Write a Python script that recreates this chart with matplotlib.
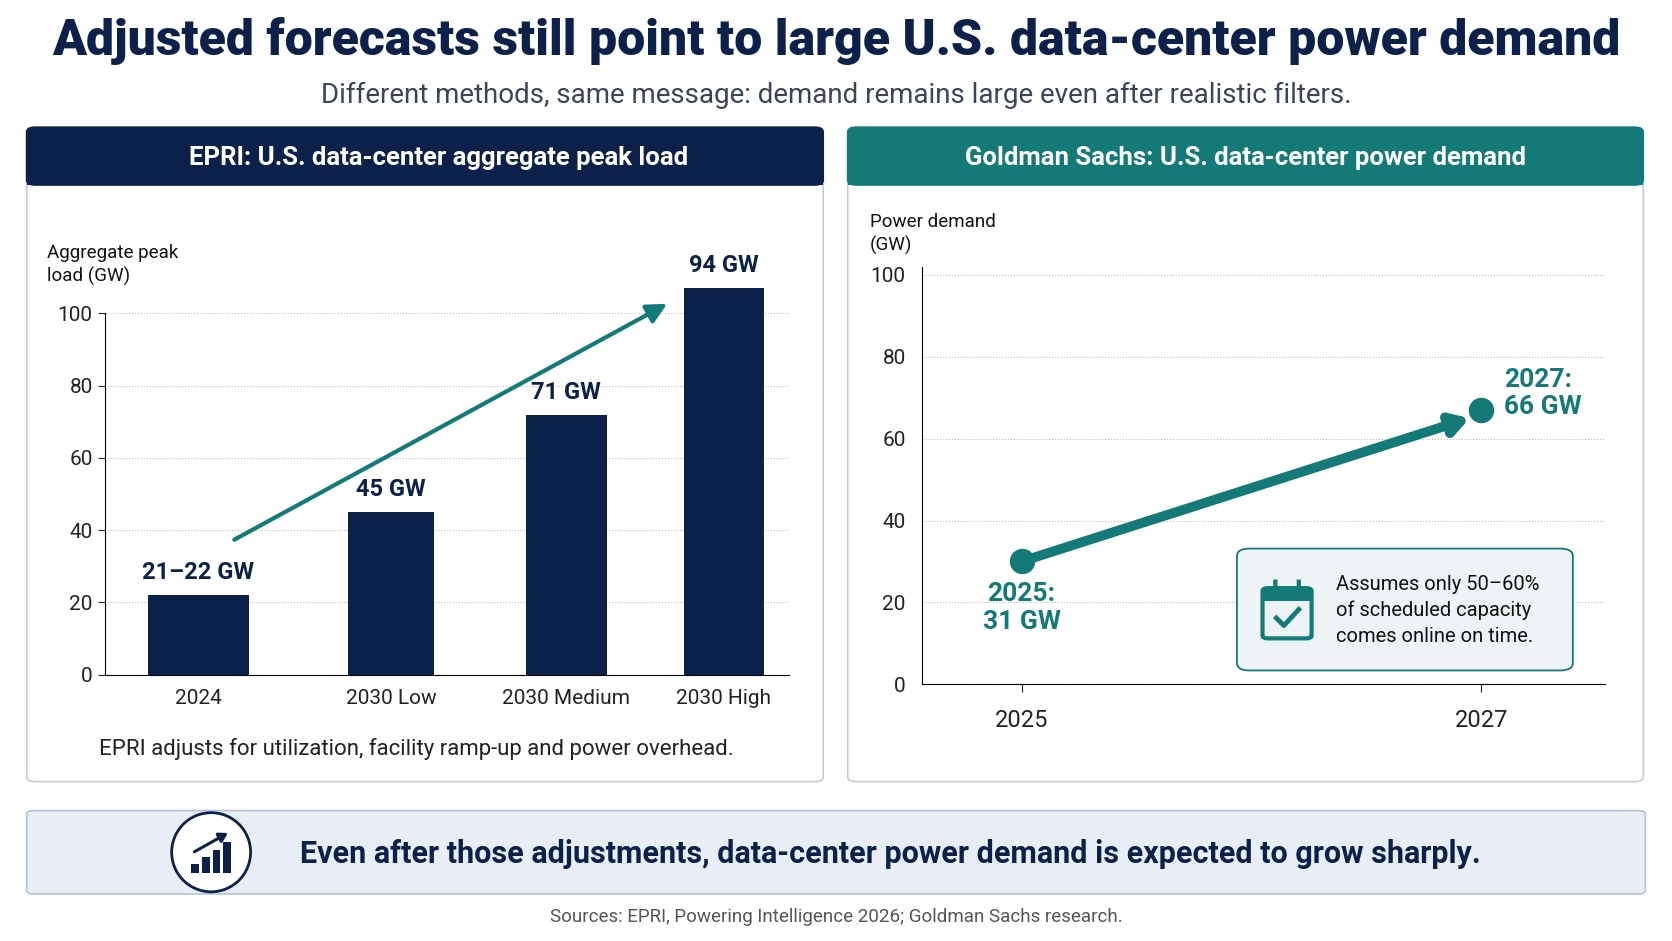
import matplotlib.pyplot as plt
from matplotlib.patches import FancyBboxPatch, Rectangle, Ellipse
import matplotlib.patches as mp

plt.rcParams['font.family'] = ['Roboto', 'DejaVu Sans']

epri_cats = ["2024", "2030 Low", "2030 Medium", "2030 High"]
epri_vals = [22, 45, 72, 107]
epri_labels = ["21–22 GW", "45 GW", "71 GW", "94 GW"]
gs_years = [2025, 2027]
gs_vals = [30, 67]
gs_labels = ["2025:\n31 GW", "2027:\n66 GW"]

NAVY = "#0c2149"
TEAL = "#137a78"
W, H = 1568, 880
fig = plt.figure(figsize=(16.72, 9.41), dpi=100)
fig.patch.set_facecolor("white")

def fx(x): return x / W
def fy(y): return 1 - y / H

def box(x0, y0, x1, y1, fc, ec, r=8, lw=1.2, z=0):
    p = FancyBboxPatch((fx(x0), fy(y1)), fx(x1) - fx(x0), fy(y0) - fy(y1),
                       boxstyle=f"round,pad=0,rounding_size={r/W}", fc=fc, ec=ec, lw=lw,
                       transform=fig.transFigure, zorder=z)
    fig.add_artist(p)

fig.text(0.5, fy(38), "Adjusted forecasts still point to large U.S. data-center power demand",
         ha="center", va="center", fontsize=36, fontweight="heavy", color=NAVY)
fig.text(0.5, fy(89), "Different methods, same message: demand remains large even after realistic filters.",
         ha="center", va="center", fontsize=20, color="#3a4657")

# panels
box(25, 119, 772, 731, "white", "#c5ccd6")
box(25, 119, 772, 173, NAVY, NAVY)
fig.add_artist(Rectangle((fx(25), fy(173)), fx(747), 10 / H, fc=NAVY, ec="none", transform=fig.transFigure))
fig.text(fx(411), fy(148), "EPRI: U.S. data-center aggregate peak load", ha="center", va="center",
         fontsize=18.5, fontweight="bold", color="white")
box(795, 119, 1541, 731, "white", "#c5ccd6")
box(795, 119, 1541, 173, TEAL, TEAL)
fig.add_artist(Rectangle((fx(795), fy(173)), fx(746), 10 / H, fc=TEAL, ec="none", transform=fig.transFigure))
fig.text(fx(1168), fy(148), "Goldman Sachs: U.S. data-center power demand", ha="center", va="center",
         fontsize=18.5, fontweight="bold", color="white")

# left axes
ax = fig.add_axes([fx(98), fy(631), fx(740) - fx(98), (631 - 250) / H])
pos = [0.34, 1.55, 2.65, 3.64]
ax.bar(pos, epri_vals, width=[0.63, 0.54, 0.51, 0.5], color=NAVY, zorder=3)
for p, v, l in zip(pos, epri_vals, epri_labels):
    ax.text(p, v + 3, l, ha="center", va="bottom", fontsize=17, fontweight="bold", color=NAVY)
ax.set_xlim(-0.25, 4.05)
ax.set_ylim(0, (631 - 250) / 3.38)
ax.set_yticks(range(0, 101, 20))
ax.set_xticks(pos)
ax.set_xticklabels(epri_cats, fontsize=15, color="#222")
ax.tick_params(axis="y", labelsize=15, colors="#222", length=5)
ax.tick_params(axis="x", length=0, pad=10)
ax.grid(axis="y", ls=":", color="#bbb", zorder=0)
for s in ["top", "right"]:
    ax.spines[s].set_visible(False)
ax.spines["left"].set_bounds(0, 100)
ax.annotate("", xy=(3.3, 103), xytext=(0.55, 37),
            arrowprops=dict(arrowstyle="-|>,head_length=1.2,head_width=0.6", color=TEAL, lw=3), zorder=4)
fig.text(fx(44), fy(248), "Aggregate peak\nload (GW)", ha="left", va="center", fontsize=13.5, color="#111",
         linespacing=1.3)
fig.text(fx(390), fy(700), "EPRI adjusts for utilization, facility ramp-up and power overhead.",
         ha="center", va="center", fontsize=16, color="#222")

# right axes
ax2 = fig.add_axes([fx(865), fy(640), fx(1505) - fx(865), (640 - 250) / H])
ax2.set_xlim(2025 - 93 / 215.5, 2027 + 116 / 215.5)
ax2.set_ylim(0, (640 - 250) / 3.83)
ax2.set_yticks(range(0, 101, 20))
ax2.set_xticks(gs_years)
ax2.tick_params(axis="y", labelsize=15, colors="#222", length=0, pad=12)
ax2.tick_params(axis="x", labelsize=17, colors="#222", length=6, pad=12)
ax2.grid(axis="y", ls=":", color="#bbb", zorder=0)
for s in ["top", "right"]:
    ax2.spines[s].set_visible(False)
ax2.scatter(gs_years, gs_vals, s=300, color=TEAL, zorder=5)
ax2.annotate("", xy=(2026.95, gs_vals[1] - 2), xytext=(gs_years[0], gs_vals[0]),
             arrowprops=dict(arrowstyle="-|>,head_length=1.0,head_width=0.6", color=TEAL, lw=7,
                             shrinkA=0, shrinkB=0), zorder=4)
ax2.text(gs_years[0], gs_vals[0] - 5, gs_labels[0], ha="center", va="top", fontsize=19,
         fontweight="bold", color=TEAL, linespacing=1.2)
ax2.text(gs_years[1] + 0.1, gs_vals[1] + 4, gs_labels[1], ha="left", va="center", fontsize=19,
         fontweight="bold", color=TEAL, linespacing=1.2)
fig.text(fx(816), fy(219), "Power demand\n(GW)", ha="left", va="center", fontsize=13.5, color="#111",
         linespacing=1.3)

# note box
box(1160, 513, 1475, 627, "#eef3f5", TEAL, r=12, lw=1.3, z=5)
fig.text(fx(1253), fy(571), "Assumes only 50–60%\nof scheduled capacity\ncomes online on time.",
         ha="left", va="center", fontsize=14.5, color="#111", linespacing=1.45, zorder=6)
cx, cy = 1207, 572
box(cx - 23, cy - 22, cx + 23, cy + 25, "none", TEAL, r=5, lw=3, z=6)
fig.add_artist(Rectangle((fx(cx - 23), fy(cy - 10)), fx(46), 12 / H, fc=TEAL, ec="none",
                         transform=fig.transFigure, zorder=6))
for dx in (-11, 11):
    fig.add_artist(mp.FancyBboxPatch((fx(cx + dx - 2), fy(cy - 20)), fx(4), 10 / H, boxstyle="round,pad=0",
                                     fc=TEAL, ec="none", transform=fig.transFigure, zorder=7))
fig.add_artist(plt.Line2D([fx(cx - 10), fx(cx - 3), fx(cx + 11)], [fy(cy + 6), fy(cy + 13), fy(cy - 2)],
                          color=TEAL, lw=3.5, transform=fig.transFigure, zorder=7))

# bottom banner
box(25, 758, 1543, 836, "#e8eef6", "#b5c3d6", r=6, lw=1.2)
fig.add_artist(Ellipse((fx(198), fy(797)), 74 / W, 74 / H, fc="white", ec=NAVY, lw=2,
                       transform=fig.transFigure, zorder=3))
ax3 = fig.add_axes([fx(178), fy(818), fx(40), 42 / H], zorder=10)
ax3.set_xlim(0, 4); ax3.set_ylim(0, 5); ax3.axis("off")
ax3.bar([0.5, 1.5, 2.5, 3.5], [1, 1.8, 2.6, 3.4], width=0.7, color=NAVY, bottom=0.2)
ax3.annotate("", xy=(3.8, 4.8), xytext=(0.2, 2.4),
             arrowprops=dict(arrowstyle="-|>,head_length=0.5,head_width=0.3", color=NAVY, lw=2.2))
fig.text(fx(835), fy(799), "Even after those adjustments, data-center power demand is expected to grow sharply.",
         ha="center", va="center", fontsize=22, fontweight="bold", color=NAVY)
fig.text(0.5, fy(858), "Sources: EPRI, Powering Intelligence 2026; Goldman Sachs research.",
         ha="center", va="center", fontsize=13.5, color="#555")

fig.savefig("out.png", dpi=100)
